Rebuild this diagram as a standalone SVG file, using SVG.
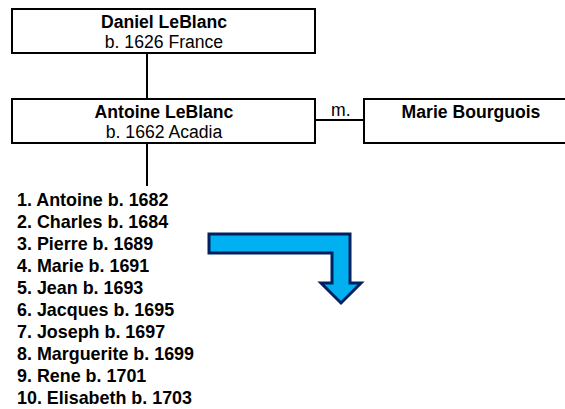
<svg xmlns="http://www.w3.org/2000/svg" width="565" height="409" viewBox="0 0 565 409">
<style>
.box{fill:#fff;stroke:#000;stroke-width:2}
.ln{stroke:#000;stroke-width:2;fill:none}
text{font-family:"Liberation Sans",Arial,sans-serif;font-size:17.6px;fill:#000}
.b{font-weight:bold}
.c{text-anchor:middle}
.li{font-size:17.9px}
</style>
<rect width="565" height="409" fill="#fff"/>
<g id="connectors">
<line class="ln" x1="147" y1="53" x2="147" y2="99"/>
<line class="ln" x1="315" y1="120" x2="364" y2="120"/>
<line class="ln" x1="147" y1="143" x2="147" y2="186"/>
</g>
<g id="daniel">
<rect class="box" x="12" y="9" width="303" height="44"/>
<text class="b c" x="164" y="28">Daniel LeBlanc</text>
<text class="c" x="164" y="48">b. 1626 France</text>
</g>
<g id="antoine">
<rect class="box" x="12" y="99" width="303" height="44"/>
<text class="b c" x="164" y="118">Antoine LeBlanc</text>
<text class="c" x="164" y="138">b. 1662 Acadia</text>
</g>
<g id="m-label">
<text x="331" y="116">m.</text>
</g>
<g id="marie">
<rect class="box" x="364" y="99" width="214" height="44"/>
<text class="b c" x="471" y="118">Marie Bourguois</text>
</g>
<g id="children">
<text class="b li" x="17" y="205.5">1. Antoine b. 1682</text>
<text class="b li" x="17" y="227.5">2. Charles b. 1684</text>
<text class="b li" x="17" y="249.5">3. Pierre b. 1689</text>
<text class="b li" x="17" y="271.5">4. Marie b. 1691</text>
<text class="b li" x="17" y="293.5">5. Jean b. 1693</text>
<text class="b li" x="17" y="315.5">6. Jacques b. 1695</text>
<text class="b li" x="17" y="337.5">7. Joseph b. 1697</text>
<text class="b li" x="17" y="359.5">8. Marguerite b. 1699</text>
<text class="b li" x="17" y="381.5">9. Rene b. 1701</text>
<text class="b li" x="17" y="403.5">10. Elisabeth b. 1703</text>
</g>
<g id="arrow">
<path d="M209,234 L350,234 L350,283 L361,283 L341,303 L321,283 L332,283 L332,253 L209,253 Z" fill="#00b0f0" stroke="#002060" stroke-width="3" stroke-linejoin="miter"/>
</g>
</svg>
